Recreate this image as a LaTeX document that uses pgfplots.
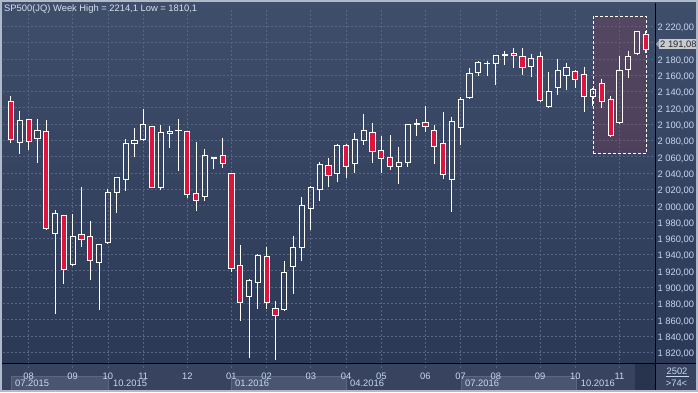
\documentclass[border=0pt]{standalone}
\usepackage{fontspec}
\setmainfont{Liberation Sans}
\usepackage{pgfplots}
\pgfplotsset{compat=1.18}
\usepackage{pgfplotstable}

\definecolor{bgtop}{RGB}{63,78,107}
\definecolor{bgbot}{RGB}{43,57,87}
\definecolor{stripc}{RGB}{56,68,95}
\definecolor{qboxc}{RGB}{74,86,112}
\definecolor{qboxd}{RGB}{92,104,128}
\definecolor{darkbox}{RGB}{40,52,78}
\definecolor{gridc}{RGB}{88,102,132}
\definecolor{labc}{RGB}{200,216,240}
\definecolor{titc}{RGB}{214,224,240}
\definecolor{candlered}{RGB}{222,20,60}
\definecolor{hlc}{RGB}{160,50,70}
\definecolor{framec}{RGB}{176,186,200}
\definecolor{pricebox}{RGB}{200,204,210}
\definecolor{pricearrow}{RGB}{150,158,170}

\newcommand\lf{\fontsize{9.4}{11}\selectfont}

\pgfdeclareplotmark{nomark}{}

\newcommand\candlebody{%
  \begingroup
  \pgfkeys{/pgf/fpu=false}%
  \pgfmathsetmacro\cTop{max(\vo,\vc)-\vc}%
  \pgfmathsetmacro\cBot{min(\vo,\vc)-\vc}%
  \pgfmathsetmacro\cHi{\vh-\vc}%
  \pgfmathsetmacro\cLo{\vl-\vc}%
  \pgfmathtruncatemacro\cDown{\vc<\vo}%
  \draw[white, line width=0.9bp] (axis direction cs:0,\cHi) -- (axis direction cs:0,\cTop);
  \draw[white, line width=0.9bp] (axis direction cs:0,\cBot) -- (axis direction cs:0,\cLo);
  \ifnum\cDown=1
    \filldraw[fill=candlered, draw=white, line width=0.9bp]
      ([xshift=-2.6bp]axis direction cs:0,\cBot) rectangle ([xshift=2.6bp]axis direction cs:0,\cTop);
  \else
    \draw[white, line width=0.9bp]
      ([xshift=-2.6bp]axis direction cs:0,\cBot) rectangle ([xshift=2.6bp]axis direction cs:0,\cTop);
  \fi
  \endgroup
}

\pgfplotsset{
  candle/.style={
    scatter, only marks, mark=nomark,
    visualization depends on={\thisrow{o}\as\vo},
    visualization depends on={\thisrow{h}\as\vh},
    visualization depends on={\thisrow{l}\as\vl},
    visualization depends on={\thisrow{c}\as\vc},
    scatter/@pre marker code/.code={\candlebody},
    scatter/@post marker code/.code={},
  }
}

\pgfplotstableread{
i o h l c
0 2079 2132 2076 2127.6
1 2128 2134 2077.3 2081
2 2078 2115.7 2063 2104.3
3 2105.5 2106 2067.9 2078.5
4 2082.2 2106.3 2052.3 2092
5 2090.8 2104.7 1970.5 1971.8
6 1965.6 1994.2 1867 1990.2
7 1987.7 1989 1903.8 1921.5
8 1927.6 1989.3 1926.5 1962
9 1964.4 2022.4 1949.2 1958.3
10 1962 1980.7 1908.7 1932.5
11 1930.1 1953 1871.9 1952.1
12 1954.6 2020.9 1953.5 2016
13 2016 2035 1990.9 2034.4
14 2031.9 2081.3 2017.5 2076.1
15 2076.1 2095.2 2059.6 2079.8
16 2081 2118.2 2080.5 2099.4
17 2096.9 2097.5 2022 2022.8
18 2022.8 2098.5 2019 2089.6
19 2089.1 2097.3 2070.7 2090.8
20 2092.2 2106.3 2042 2092.8
21 2090.8 2091.5 2009.3 2013.5
22 2014.7 2077.7 1993.4 2006.1
23 2011 2069 2005.6 2061.3
24 2058.5 2059.5 2044.9 2059.3
25 2061.3 2082.6 2046.1 2051.5
26 2039.3 2039.8 1918.5 1922.7
27 1926.4 1951.3 1858 1881
28 1889.1 1909.6 1813 1908
29 1906.3 1940.2 1872.8 1938.6
30 1937.4 1948.8 1872.8 1881
31 1873.6 1882.6 1811 1865
32 1872.4 1931.6 1871.5 1917.8
33 1925.2 1963.2 1891.5 1948.8
34 1948.5 2010.2 1932.5 2000
35 1996.3 2023.7 1970 2022.1
36 2019.6 2053.1 2005.6 2050.3
37 2049 2058 2022.8 2036.8
38 2039.3 2076 2029 2073.6
39 2073.6 2075.6 2033.9 2047.8
40 2051.5 2088.7 2040 2081
41 2079.8 2112 2074.8 2092
42 2089.6 2101 2052.8 2066.3
43 2067.5 2085 2040.5 2057.7
44 2058.9 2086.3 2043.7 2047.8
45 2047.8 2072.4 2026.5 2052.8
46 2052.8 2100 2047.8 2099.4
47 2099.6 2105.9 2085.4 2100.4
48 2101.8 2121.8 2090.3 2096.9
49 2092 2099.4 2051 2072.4
50 2076.1 2114.5 2033 2038
51 2031.9 2109.1 1992 2103
52 2095.7 2132.9 2074.4 2130
53 2132.5 2169.3 2131.8 2162
54 2163.2 2177.4 2159 2175.5
55 2174 2178 2159 2174.5
56 2174.2 2184.5 2148 2184
57 2184 2189.3 2172.5 2185.3
58 2186.5 2193.9 2168.8 2184
59 2182.8 2193.9 2160.7 2169.3
60 2170.6 2185.6 2158.3 2180.4
61 2182.8 2189 2128 2128.8
62 2121.5 2164.4 2120.2 2139.9
63 2144.8 2180.4 2136.2 2165.6
64 2159.5 2175.5 2142.3 2169.3
65 2164.4 2166.9 2144.8 2154.6
66 2160.7 2170.6 2115.3 2133.7
67 2133.7 2144.8 2122.7 2142.3
68 2149.7 2155.8 2120.2 2127.6
69 2130 2134.1 2084.7 2085.9
70 2101.8 2183.2 2101 2165.6
71 2166.9 2190.2 2156.6 2182.8
72 2186.5 2213.8 2186 2213.5
73 2210.6 2214.1 2187.7 2191.08
}\spx

\begin{document}
\begin{tikzpicture}[x=1bp,y=1bp]
\useasboundingbox (0,0) rectangle (698,392);
% background
\shade[top color=bgtop, bottom color=bgbot] (0,29) rectangle (698,392);
\fill[stripc] (0,0) rectangle (698,29);
% quarter boxes
\foreach \a/\b in {11/108, 231/346, 461.7/576}{
  \filldraw[fill=qboxc, draw=qboxd, line width=0.8bp] (\a,2) rectangle (\b,15.3);
}
\fill[darkbox] (634.5,2) rectangle (654.5,28.5);

\begin{axis}[
  at={(3,29)}, anchor=south west,
  width=652bp, height=360bp, scale only axis,
  xmin=0.06, xmax=74.0, ymin=1800.4, ymax=2242.1,
  axis line style={draw=none},
  major tick length=0pt,
  tick style={draw=none},
  grid=major,
  major grid style={dash pattern=on 2bp off 2bp, color=gridc, line width=0.8bp},
  xtick={3,8,12,16,21,26,30,35,39,43,48,52,56,61,65,70},
  xticklabels={08,09,10,11,12,01,02,03,04,05,06,07,08,09,10,11},
  xticklabel style={inner sep=0pt, yshift=-4.2bp, font=\lf, text=labc},
  ytick={1820,1840,...,2220},
  yticklabels={{1 820,00},{1 840,00},{1 860,00},{1 880,00},{1 900,00},{1 920,00},{1 940,00},{1 960,00},{1 980,00},{2 000,00},{2 020,00},{2 040,00},{2 060,00},{2 080,00},{2 100,00},{2 120,00},{2 140,00},{2 160,00},{2 180,00},{2 200,00},{2 220,00}},
  yticklabel pos=right,
  yticklabel style={inner sep=0pt, xshift=2.7bp, yshift=-1.7bp, font=\lf, text=labc},
]
\addplot[candle] table[x=i, y=c] {\spx};
\addplot[draw=white, densely dashed, line width=0.8bp, fill=hlc, fill opacity=0.22]
  coordinates {(67,2063.8) (73.05,2063.8) (73.05,2232.3) (67,2232.3) (67,2063.8)};
\addplot[white, densely dashed, line width=0.8bp] coordinates {(73,2209.3) (73,2192.4)};
\end{axis}

% separator lines
\draw[black, line width=1bp] (655.5,0) -- (655.5,389);
\draw[black, line width=1bp] (2,29) -- (698,29);
% title
\node[anchor=base west, inner sep=0pt, text=titc, font=\lf] at (4,380.3) {SP500(JQ) Week High = 2214,1 Low = 1810,1};
% quarter labels
\foreach \x/\t in {15/07.2015, 113/10.2015, 235/01.2016, 350/04.2016, 465/07.2016, 580.7/10.2016}{
  \node[anchor=base west, inner sep=0pt, text=labc, font=\lf] at (\x,5.8) {\t};
}
% price marker
\fill[pricearrow] (655.8,348) -- (659,351.5) -- (659,344.5) -- cycle;
\fill[pricebox] (658.5,343) rectangle (698,353);
\node[anchor=base west, inner sep=0pt, text=black!85, font=\lf] at (660,344.6) {2 191,08};
% bottom right counters
\node[anchor=base, inner sep=0pt, text=labc, font=\lf] at (677,18) {2502};
\draw[labc, line width=0.7bp] (666,15.3) -- (689,15.3);
\node[anchor=base, inner sep=0pt, text=labc, font=\lf] at (676.5,5.3) {>74<};
% outer frame
\draw[framec, line width=2bp] (1,1) rectangle (697,391);
\end{tikzpicture}
\end{document}
